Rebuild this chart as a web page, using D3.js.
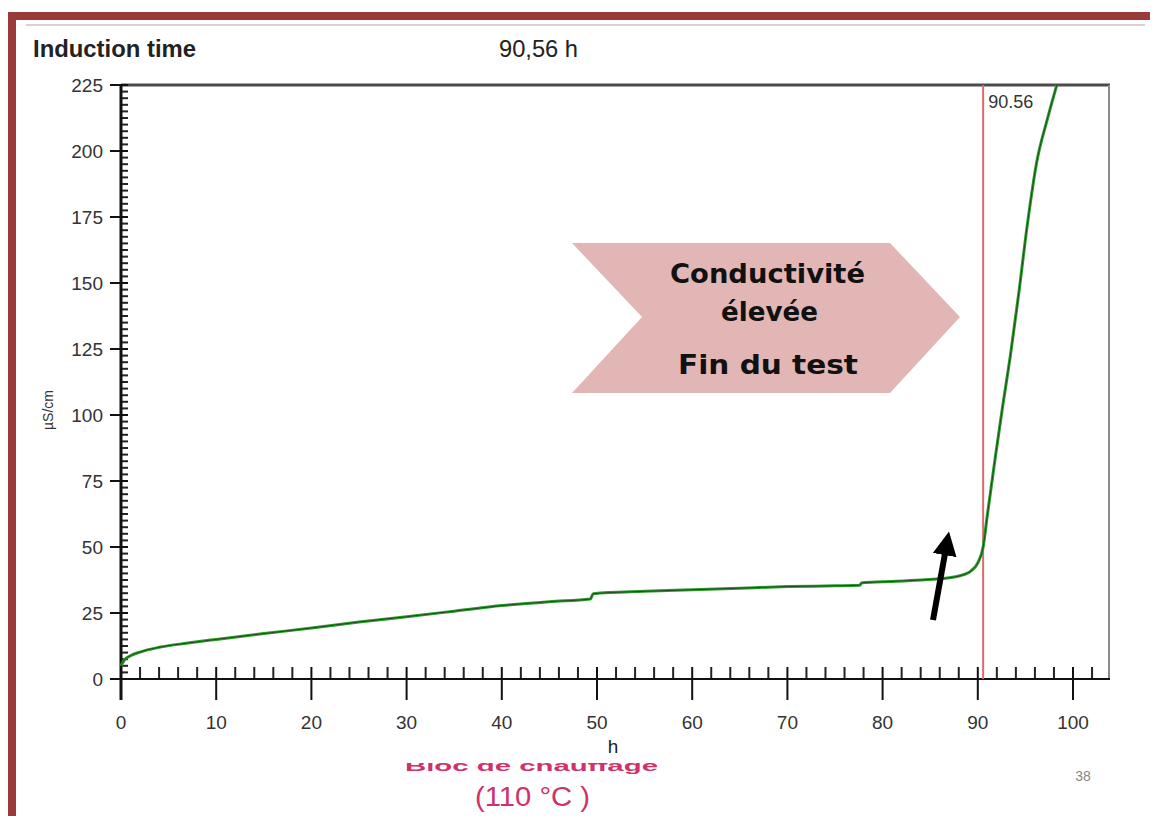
<!DOCTYPE html>
<html>
<head>
<meta charset="utf-8">
<script src="https://cdn.jsdelivr.net/npm/d3@7"></script>
<style>
  body { margin: 0; background: #fff; }
  svg { display: block; }
</style>
</head>
<body>
<div id="chart"></div>
<script>
// conductivity (h, µS/cm)
const hours = [0, 0.3, 1, 2, 4, 7, 10, 15, 20, 25, 30, 35, 40, 45, 49.3, 49.6, 55, 60, 65, 70, 75, 77.6, 77.8, 80, 84, 86, 87.5, 88.5, 89.3, 90, 90.56, 91, 91.8, 92.6, 93.4, 94.3, 95.2, 96.2, 97.3, 98.3]
const conductivity = [5, 7, 8.8, 10.2, 12, 13.6, 15, 17.2, 19.3, 21.6, 23.6, 25.7, 27.8, 29.3, 30.3, 32.3, 33.2, 33.8, 34.4, 35, 35.3, 35.5, 36.4, 36.8, 37.5, 38, 38.6, 39.5, 41, 44, 50, 62, 83, 103, 122, 146, 172, 196, 212, 225]
const yTicks = [0, 25, 50, 75, 100, 125, 150, 175, 200, 225]
const xTicks = [0, 10, 20, 30, 40, 50, 60, 70, 80, 90, 100]
const inductionTime = 90.56
const calloutLines = ['Conductivité', 'élevée', 'Fin du test']

const W = 1162, H = 816
const margin = { left: 121, top: 85, right: 1109, bottom: 679 }
const sans = '"Liberation Sans", Arial, sans-serif'

const svg = d3.select('#chart').append('svg')
  .attr('width', W)
  .attr('height', H)

// slide frame
svg.append('rect').attr('x', 8).attr('y', 12).attr('width', 1142).attr('height', 8).attr('fill', '#9b3a3a')
svg.append('rect').attr('x', 8).attr('y', 12).attr('width', 8).attr('height', H - 12).attr('fill', '#9b3a3a')
svg.append('line').attr('x1', 26).attr('x2', 1145).attr('y1', 25).attr('y2', 25)
  .attr('stroke', '#d4d4d4').attr('stroke-width', 2)

const x = d3.scaleLinear().domain([0, 100]).range([margin.left, 1073])
const y = d3.scaleLinear().domain([0, 225]).range([margin.bottom, margin.top])

// header
svg.append('text').attr('x', 33).attr('y', 57)
  .attr('textLength', 163).attr('lengthAdjust', 'spacingAndGlyphs')
  .style('font-family', sans).style('font-size', '24px').style('font-weight', 'bold')
  .attr('fill', '#222').text('Induction time')
svg.append('text').attr('x', 499).attr('y', 57)
  .attr('textLength', 79).attr('lengthAdjust', 'spacingAndGlyphs')
  .style('font-family', sans).style('font-size', '24px')
  .attr('fill', '#222').text(d3.format('.2f')(inductionTime).replace('.', ',') + ' h')

// frame top and right
svg.append('line').attr('x1', margin.left).attr('x2', margin.right + 1).attr('y1', margin.top).attr('y2', margin.top)
  .attr('stroke', '#4a4a4a').attr('stroke-width', 3)
svg.append('line').attr('x1', margin.right).attr('x2', margin.right).attr('y1', margin.top).attr('y2', margin.bottom)
  .attr('stroke', '#8a8a8a').attr('stroke-width', 2)

// y axis: major ticks crossing, minor ticks inside
const yMinor = d3.range(0, 225.1, 2.5).filter(v => v % 25 !== 0)
svg.append('g').selectAll('line').data(yMinor).enter().append('line')
  .attr('x1', margin.left).attr('x2', margin.left + 7)
  .attr('y1', d => y(d)).attr('y2', d => y(d))
  .attr('stroke', '#222').attr('stroke-width', 2)
svg.append('g').selectAll('line').data(yTicks).enter().append('line')
  .attr('x1', margin.left - 11).attr('x2', margin.left + 7)
  .attr('y1', d => y(d)).attr('y2', d => y(d))
  .attr('stroke', '#111').attr('stroke-width', 2)
svg.append('g').selectAll('text').data(yTicks).enter().append('text')
  .attr('x', 103).attr('y', d => y(d) + 7)
  .attr('text-anchor', 'end')
  .style('font-family', sans).style('font-size', '19px')
  .attr('fill', '#333').text(d => d)
svg.append('line').attr('x1', margin.left).attr('x2', margin.left).attr('y1', margin.top).attr('y2', margin.bottom + 21)
  .attr('stroke', '#111').attr('stroke-width', 3)

// x axis: major ticks crossing, minor ticks above
const xMinor = d3.range(2, 103, 2).filter(v => v % 10 !== 0)
svg.append('g').selectAll('line').data(xMinor).enter().append('line')
  .attr('x1', d => x(d)).attr('x2', d => x(d))
  .attr('y1', margin.bottom - 12).attr('y2', margin.bottom)
  .attr('stroke', '#222').attr('stroke-width', 2)
svg.append('g').selectAll('line').data(xTicks).enter().append('line')
  .attr('x1', d => x(d)).attr('x2', d => x(d))
  .attr('y1', margin.bottom - 12).attr('y2', margin.bottom + 21)
  .attr('stroke', '#111').attr('stroke-width', 2)
svg.append('line').attr('x1', margin.left - 11).attr('x2', margin.right + 1).attr('y1', margin.bottom).attr('y2', margin.bottom)
  .attr('stroke', '#111').attr('stroke-width', 2)
svg.append('g').selectAll('text').data(xTicks).enter().append('text')
  .attr('x', d => x(d)).attr('y', 729)
  .attr('text-anchor', 'middle')
  .style('font-family', sans).style('font-size', '19px')
  .attr('fill', '#333').text(d => d)

svg.append('text').attr('x', 613).attr('y', 753).attr('text-anchor', 'middle')
  .style('font-family', sans).style('font-size', '19px')
  .attr('fill', '#222').text('h')
svg.append('text').attr('transform', 'translate(53,410) rotate(-90)').attr('text-anchor', 'middle')
  .style('font-family', sans).style('font-size', '14px')
  .attr('fill', '#333').text('µS/cm')

// callout chevron
const cx0 = 572, cx1 = 890, cx2 = 960, cy0 = 243, cy1 = 317, cy2 = 393, notch = 642
svg.append('path')
  .attr('d', `M${cx0},${cy0}L${cx1},${cy0}L${cx2},${cy1}L${cx1},${cy2}L${cx0},${cy2}L${notch},${cy1}Z`)
  .attr('fill', '#e3b6b6')
svg.append('g').selectAll('text').data(calloutLines).enter().append('text')
  .attr('x', (d, i) => [670, 721, 678][i]).attr('y', (d, i) => [283, 321, 374][i])
  .attr('textLength', (d, i) => [195, 97, 180][i]).attr('lengthAdjust', 'spacingAndGlyphs')
  .style('font-family', '"DejaVu Sans", sans-serif').style('font-size', '27px').style('font-weight', 'bold')
  .attr('fill', '#111').text(d => d)

// induction time marker
svg.append('line').attr('x1', x(inductionTime)).attr('x2', x(inductionTime))
  .attr('y1', margin.top).attr('y2', margin.bottom)
  .attr('stroke', '#e06a6a').attr('stroke-width', 2)
svg.append('text').attr('x', x(inductionTime) + 5).attr('y', 108)
  .style('font-family', sans).style('font-size', '18px')
  .attr('fill', '#333').text(d3.format('.2f')(inductionTime))

// conductivity curve
const line = d3.line()
  .x((d, i) => x(hours[i]))
  .y(d => y(d))
  .curve(d3.curveMonotoneX)
svg.append('path').datum(conductivity)
  .attr('d', line)
  .attr('fill', 'none')
  .attr('stroke', '#2e9a2e').attr('stroke-width', 3)
svg.append('path').datum(conductivity)
  .attr('d', line)
  .attr('fill', 'none')
  .attr('stroke', '#1d4d1d').attr('stroke-width', 1)

// black arrow pointing at the rise
svg.append('defs').append('marker')
  .attr('id', 'head').attr('viewBox', '0 0 10 10')
  .attr('refX', 3).attr('refY', 5)
  .attr('markerWidth', 4).attr('markerHeight', 4)
  .attr('orient', 'auto')
  .append('path').attr('d', 'M0,0L10,5L0,10Z').attr('fill', '#000')
svg.append('line').attr('x1', 933).attr('y1', 620).attr('x2', 946).attr('y2', 548)
  .attr('stroke', '#000').attr('stroke-width', 6)
  .attr('marker-end', 'url(#head)')

// slide footer text, mostly hidden behind the chart (only the bottom strip shows)
svg.append('clipPath').attr('id', 'cut').append('rect')
  .attr('x', 380).attr('y', 763).attr('width', 320).attr('height', 20)
svg.append('text').attr('x', 405).attr('y', 771)
  .attr('clip-path', 'url(#cut)')
  .attr('textLength', 253).attr('lengthAdjust', 'spacingAndGlyphs')
  .style('font-family', sans).style('font-size', '14px').style('font-weight', 'bold')
  .attr('fill', '#d0316b').text('Bloc de chauffage')
svg.append('text').attr('x', 475).attr('y', 806)
  .attr('textLength', 115).attr('lengthAdjust', 'spacingAndGlyphs')
  .style('font-family', sans).style('font-size', '27px')
  .attr('fill', '#d0316b').text('(110 °C )')
svg.append('text').attr('x', 1083).attr('y', 781).attr('text-anchor', 'middle')
  .style('font-family', sans).style('font-size', '14px')
  .attr('fill', '#888').text('38')
</script>
</body>
</html>
